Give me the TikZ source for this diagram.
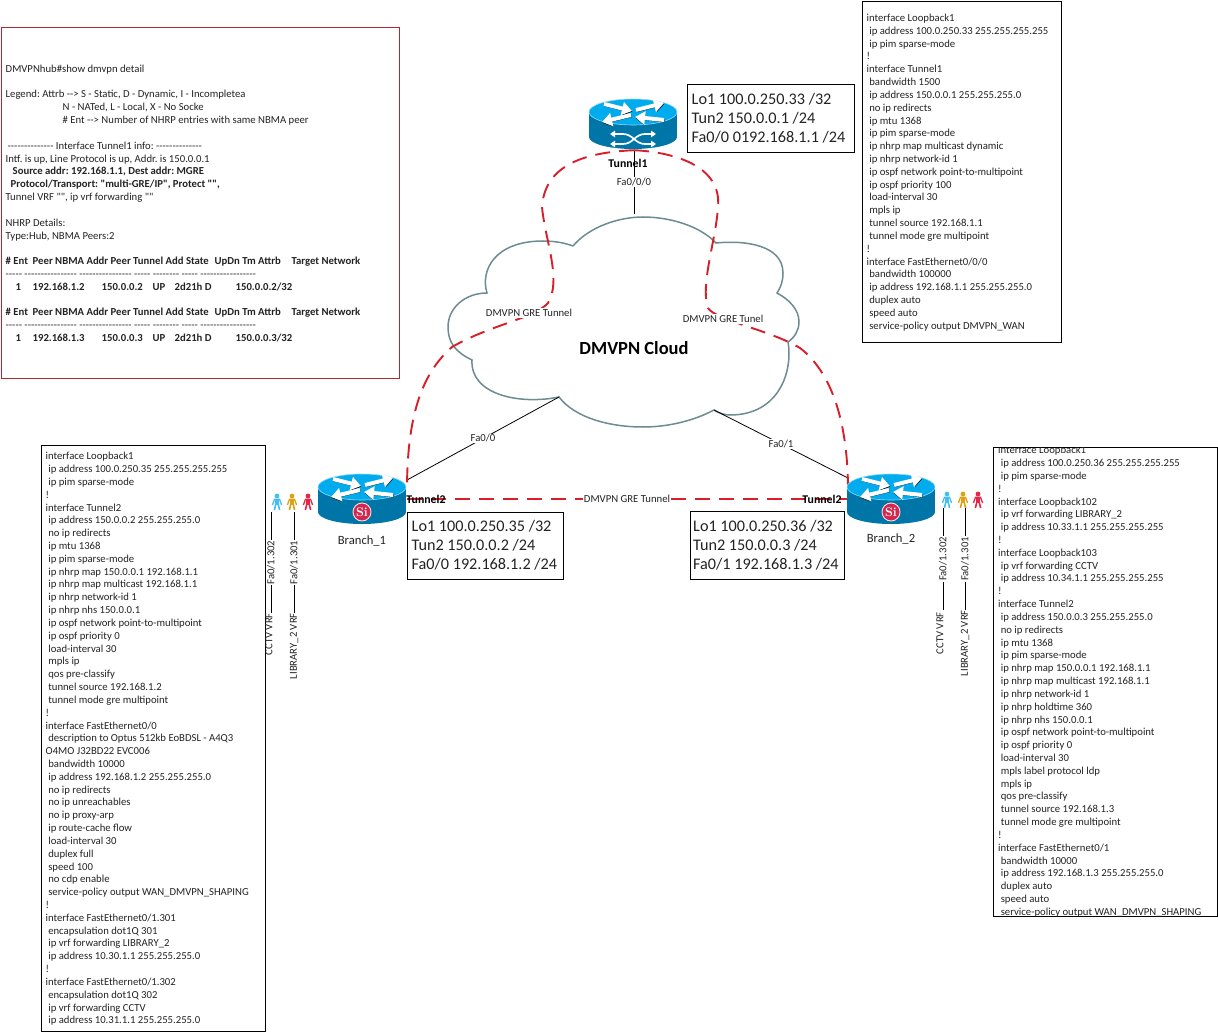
\documentclass[tikz,border=0pt]{standalone}
\usepackage{fontspec}
\newfontfamily\diagfont{Carlito}
\usetikzlibrary{arrows.meta}
\newcommand{\ind}{\hspace*{2.6pt}}
\newcommand{\topstrut}{\rule{0pt}{9pt}}
\newcommand{\cellat}[2]{\makebox[0pt][l]{\hspace*{#1pt}#2}}
\newcommand{\dashrow}{----- ---------------- ---------------- ----- -------- ----- -----------------}
\definecolor{routertop}{RGB}{0,172,238}
\definecolor{routerside}{RGB}{0,118,168}
\definecolor{cloudedge}{RGB}{108,140,146}
\definecolor{tunnelred}{RGB}{216,30,40}
\definecolor{panelred}{RGB}{178,40,50}
\definecolor{inktext}{RGB}{35,35,35}
\definecolor{badgered}{RGB}{210,40,80}
\definecolor{hostcyan}{RGB}{70,190,240}
\definecolor{hostorange}{RGB}{222,160,20}
\definecolor{hostred}{RGB}{226,40,70}
\tikzset{
    every node/.style={font=\diagfont\frenchspacing\fontsize{10.7}{12.82}\selectfont, text=inktext},
    cfgbox/.style={draw=black, fill=white, anchor=north west, inner xsep=4.5pt, inner ysep=0pt, align=flush left},
    ipbox/.style={draw=black, fill=white, anchor=north west, inner xsep=4.5pt, inner ysep=0pt, align=flush left,
        font=\diagfont\frenchspacing\fontsize{16.2}{19}\selectfont},
    tunnelline/.style={draw=tunnelred, line width=1.9pt, dash pattern=on 15pt off 9pt},
    linkline/.style={draw=black, line width=0.8pt},
    linklabel/.style={fill=white, inner sep=1pt},
    tunnellabel/.style={inner sep=0pt, font=\diagfont\bfseries\fontsize{11.8}{12.85}\selectfont, text=black},
    vrflabel/.style={rotate=90, fill=white, inner sep=1pt},
    wingarrow/.style={draw=white, line width=4pt, -{Triangle[length=10pt,width=13pt]}},
    wingshadow/.style={draw=black, line width=3pt, -{Triangle[length=9pt,width=11.5pt]}},
    crossarrow/.style={draw=white, line width=1.7pt, {Triangle[length=5pt,width=6.5pt]}-{Triangle[length=5pt,width=6.5pt]}},
    pics/routerbody/.style={code={
        \fill[routerside] (0,25) ellipse (44 and 12);
        \fill[routerside] (-44,0) rectangle (44,25);
        \fill[routertop, draw=cyan!45, line width=0.6pt] (0,0) ellipse (44 and 13);
        \foreach \ax/\ay/\bx/\by in {-29/-8/-1/-1, 3/-2/31/-9, -2/3/-31/10, 31/8/2/5} {
            \draw[wingshadow] (\ax+0.3,\ay+0.7) -- (\bx+0.3,\by+0.7);
            \draw[wingarrow] (\ax,\ay) -- (\bx,\by);
        }
    }},
    pics/sibadge/.style={code={
        \fill[badgered, draw=white!85!red, line width=0.9pt] (0,0) circle (9);
        \node[inner sep=0pt, text=white, font=\bfseries\fontsize{12.5}{12}\selectfont] {Si};
    }},
    pics/person/.style={code={
        \fill[#1] (0,-6) circle (2.4);
        \draw[#1, line width=3.4pt] (0,-3.4) -- (0,3);
        \draw[#1, line width=1.3pt] (-4.6,3) -- (-2.5,-2.8) -- (2.5,-2.8) -- (4.6,3);
        \draw[#1, line width=1.6pt] (-2.6,8) -- (-1.2,2) -- (1.2,2) -- (2.6,8);
    }},
}
\begin{document}
\begin{tikzpicture}[x=1pt, y=-1pt]
\useasboundingbox (0,0) rectangle (1218,1032);

% config and status panels
\node[cfgbox, draw=panelred, minimum width=398pt, minimum height=351pt, text width=389pt] (hubStatus) at (1,27) {%
\topstrut DMVPNhub\#show dmvpn detail\\
~\\
Legend: Attrb --> S - Static, D - Dynamic, I - Incompletea\\
\hspace*{57pt}N - NATed, L - Local, X - No Socke\\
\hspace*{57pt}\# Ent --> Number of NHRP entries with same NBMA peer\\
~\\
\hspace*{2pt}-------------- Interface Tunnel1 info: --------------\\
Intf. is up, Line Protocol is up, Addr. is 150.0.0.1\\
\hspace*{7pt}\textbf{Source addr: 192.168.1.1, Dest addr: MGRE}\\
\hspace*{5pt}\textbf{Protocol/Transport: "multi-GRE/IP", Protect "",}\\
Tunnel VRF "", ip vrf forwarding ""\\
~\\
NHRP Details:\\
Type:Hub, NBMA Peers:2\\
~\\
\textbf{\cellat{0}{\# Ent}\cellat{27}{Peer NBMA Addr Peer Tunnel Add State}\cellat{209}{UpDn Tm Attrb}\cellat{286}{Target Network}}\\
\dashrow\\
\textbf{\cellat{10}{1}\cellat{27}{192.168.1.2}\cellat{96}{150.0.0.2}\cellat{147}{UP}\cellat{169}{2d21h D}\cellat{230}{150.0.0.2/32}}\\
~\\
\textbf{\cellat{0}{\# Ent}\cellat{27}{Peer NBMA Addr Peer Tunnel Add State}\cellat{209}{UpDn Tm Attrb}\cellat{286}{Target Network}}\\
\dashrow\\
\textbf{\cellat{10}{1}\cellat{27}{192.168.1.3}\cellat{96}{150.0.0.3}\cellat{147}{UP}\cellat{169}{2d21h D}\cellat{230}{150.0.0.3/32}}
};

\node[cfgbox, minimum width=199pt, minimum height=341pt, text width=190pt] (hubConfig) at (862,1) {%
\topstrut interface Loopback1\\
\ind ip address 100.0.250.33 255.255.255.255\\
\ind ip pim sparse-mode\\
!\\
interface Tunnel1\\
\ind bandwidth 1500\\
\ind ip address 150.0.0.1 255.255.255.0\\
\ind no ip redirects\\
\ind ip mtu 1368\\
\ind ip pim sparse-mode\\
\ind ip nhrp map multicast dynamic\\
\ind ip nhrp network-id 1\\
\ind ip ospf network point-to-multipoint\\
\ind ip ospf priority 100\\
\ind load-interval 30\\
\ind mpls ip\\
\ind tunnel source 192.168.1.1\\
\ind tunnel mode gre multipoint\\
!\\
interface FastEthernet0/0/0\\
\ind bandwidth 100000\\
\ind ip address 192.168.1.1 255.255.255.0\\
\ind duplex auto\\
\ind speed auto\\
\ind service-policy output DMVPN\_WAN
};

\node[cfgbox, minimum width=224pt, minimum height=586pt, text width=215pt] (branchOneConfig) at (41,445) {%
\topstrut interface Loopback1\\
\ind ip address 100.0.250.35 255.255.255.255\\
\ind ip pim sparse-mode\\
!\\
interface Tunnel2\\
\ind ip address 150.0.0.2 255.255.255.0\\
\ind no ip redirects\\
\ind ip mtu 1368\\
\ind ip pim sparse-mode\\
\ind ip nhrp map 150.0.0.1 192.168.1.1\\
\ind ip nhrp map multicast 192.168.1.1\\
\ind ip nhrp network-id 1\\
\ind ip nhrp nhs 150.0.0.1\\
\ind ip ospf network point-to-multipoint\\
\ind ip ospf priority 0\\
\ind load-interval 30\\
\ind mpls ip\\
\ind qos pre-classify\\
\ind tunnel source 192.168.1.2\\
\ind tunnel mode gre multipoint\\
!\\
interface FastEthernet0/0\\
\ind description to Optus 512kb EoBDSL - A4Q3\\
O4MO J32BD22 EVC006\\
\ind bandwidth 10000\\
\ind ip address 192.168.1.2 255.255.255.0\\
\ind no ip redirects\\
\ind no ip unreachables\\
\ind no ip proxy-arp\\
\ind ip route-cache flow\\
\ind load-interval 30\\
\ind duplex full\\
\ind speed 100\\
\ind no cdp enable\\
\ind service-policy output WAN\_DMVPN\_SHAPING\\
!\\
interface FastEthernet0/1.301\\
\ind encapsulation dot1Q 301\\
\ind ip vrf forwarding LIBRARY\_2\\
\ind ip address 10.30.1.1 255.255.255.0\\
!\\
interface FastEthernet0/1.302\\
\ind encapsulation dot1Q 302\\
\ind ip vrf forwarding CCTV\\
\ind ip address 10.31.1.1 255.255.255.0
};

\node[cfgbox, minimum width=224pt, minimum height=469pt] (branchTwoConfig) at (993,447) {};
\begin{scope}
\clip (branchTwoConfig.north west) rectangle (branchTwoConfig.south east);
\node[align=flush left, text width=215pt, inner sep=0pt] (branchTwoText) at ([xshift=0.5pt]branchTwoConfig.center) {%
interface Loopback1\\
\ind ip address 100.0.250.36 255.255.255.255\\
\ind ip pim sparse-mode\\
!\\
interface Loopback102\\
\ind ip vrf forwarding LIBRARY\_2\\
\ind ip address 10.33.1.1 255.255.255.255\\
!\\
interface Loopback103\\
\ind ip vrf forwarding CCTV\\
\ind ip address 10.34.1.1 255.255.255.255\\
!\\
interface Tunnel2\\
\ind ip address 150.0.0.3 255.255.255.0\\
\ind no ip redirects\\
\ind ip mtu 1368\\
\ind ip pim sparse-mode\\
\ind ip nhrp map 150.0.0.1 192.168.1.1\\
\ind ip nhrp map multicast 192.168.1.1\\
\ind ip nhrp network-id 1\\
\ind ip nhrp holdtime 360\\
\ind ip nhrp nhs 150.0.0.1\\
\ind ip ospf network point-to-multipoint\\
\ind ip ospf priority 0\\
\ind load-interval 30\\
\ind mpls label protocol ldp\\
\ind mpls ip\\
\ind qos pre-classify\\
\ind tunnel source 192.168.1.3\\
\ind tunnel mode gre multipoint\\
!\\
interface FastEthernet0/1\\
\ind bandwidth 10000\\
\ind ip address 192.168.1.3 255.255.255.0\\
\ind duplex auto\\
\ind speed auto\\
\ind service-policy output WAN\_DMVPN\_SHAPING
};
\end{scope}

% cloud outline
\draw[cloudedge, line width=1.5pt, fill=white]
    (573,246) .. controls (590,226) and (620,217) .. (643,217)
    .. controls (670,217) and (700,226) .. (716,243)
    .. controls (745,240) and (783,245) .. (783,273)
    .. controls (783,281) and (781,287) .. (777,293)
    .. controls (790,300) and (799,310) .. (799,322)
    .. controls (799,330) and (795,337) .. (788,342)
    .. controls (793,370) and (780,415) .. (730,415)
    .. controls (725,415) and (718,413) .. (714,410)
    .. controls (695,420) and (670,427) .. (643,427)
    .. controls (610,427) and (575,418) .. (559,397)
    .. controls (520,405) and (470,395) .. (472,360)
    .. controls (455,352) and (448,342) .. (448,327)
    .. controls (448,308) and (465,293) .. (487,293)
    .. controls (480,270) and (495,241) .. (543,241)
    .. controls (555,241) and (565,243) .. (573,246);

% routers
\coordinate (cloudTop) at (634,214);
\coordinate (cloudLeft) at (559,397);
\coordinate (cloudRight) at (714,410);
\node[minimum width=90pt, minimum height=50pt] (hub) at (634,125) {};
\node[minimum width=88pt, minimum height=50pt] (branchOne) at (362,499) {};
\node[minimum width=88pt, minimum height=50pt] (branchTwo) at (891,499) {};
\coordinate (leftRise) at (407,490);
\coordinate (rightRise) at (848,490);
\coordinate (oneTunnel) at (407,499);
\coordinate (twoTunnel) at (848,499);
\coordinate (oneFa) at (407,480);
\coordinate (twoFa) at (848,478);

% links
\draw[linkline] (hub.south) -- node[linklabel, pos=0.5] (hubFa) {Fa0/0/0} (cloudTop);
\draw[linkline] (cloudLeft) -- node[linklabel] (oneFaLabel) {Fa0/0} (oneFa);
\draw[linkline] (cloudRight) -- node[linklabel] (twoFaLabel) {Fa0/1} (twoFa);

% gre tunnels
\draw[tunnelline] (hub.south) .. controls (595,152) and (545,160) .. (542,207)
    .. controls (545,240) and (562,280) .. (548,303)
    .. controls (535,318) and (490,325) .. (452,347)
    .. controls (420,375) and (407,420) .. (leftRise);
\draw[tunnelline] (hub.south) .. controls (672,152) and (722,165) .. (718,207)
    .. controls (716,240) and (700,285) .. (708,308)
    .. controls (715,320) and (770,330) .. (800,348)
    .. controls (835,375) and (848,430) .. (rightRise);
\draw[tunnelline] (oneTunnel) -- (twoTunnel);
\node[linklabel] (greLeft) at (529,313) {DMVPN GRE Tunnel};
\node[linklabel] (greRight) at (723,319) {DMVPN GRE Tunel};
\node[linklabel] (greMid) at (627,499) {DMVPN GRE Tunnel};
\node[font=\diagfont\bfseries\fontsize{18.5}{20}\selectfont, text=black] (cloudName) at (634,348) {DMVPN Cloud};

\pic at (633,112) {routerbody};
\draw[crossarrow] (610,134) -- (623,134) .. controls (633,134) and (635,144) .. (645,144) -- (656,144);
\draw[crossarrow] (610,144) -- (623,144) .. controls (633,144) and (635,134) .. (645,134) -- (656,134);

\pic at (362,487) {routerbody};
\pic at (362,512) {sibadge};
\pic at (891,487) {routerbody};
\pic at (891,512) {sibadge};

\node[tunnellabel] (hubTunnel) at (628,163) {Tunnel1};
\node[tunnellabel] (oneTunnelLabel) at (426,499) {Tunnel2};
\node[tunnellabel] (twoTunnelLabel) at (822,499) {Tunnel2};
\node[font=\diagfont\fontsize{12.6}{14}\selectfont] (oneName) at (362,541) {Branch\_1};
\node[font=\diagfont\fontsize{12.6}{14}\selectfont] (twoName) at (891,539) {Branch\_2};

% address boxes
\node[ipbox, minimum width=167pt, minimum height=68pt, text width=158pt] (hubAddr) at (687,84) {%
Lo1 100.0.250.33 /32\\Tun2 150.0.0.1 /24\\Fa0/0 0192.168.1.1 /24};
\node[ipbox, minimum width=156pt, minimum height=67pt, text width=147pt] (oneAddr) at (407,512) {%
Lo1 100.0.250.35 /32\\Tun2 150.0.0.2 /24\\Fa0/0 192.168.1.2 /24};
\node[ipbox, inner xsep=3pt, minimum width=154pt, minimum height=68pt, text width=148pt] (twoAddr) at (690,511) {%
Lo1 100.0.250.36 /32\\Tun2 150.0.0.3 /24\\Fa0/1 192.168.1.3 /24};

% vrf hosts
\pic at (277,502) {person={hostcyan}};
\pic at (292,502) {person={hostorange}};
\pic at (308,502) {person={hostred}};
\pic at (947,500) {person={hostcyan}};
\pic at (963,500) {person={hostorange}};
\pic at (978,500) {person={hostred}};

\coordinate (oneCctv) at (271,512);
\coordinate (oneCctvEnd) at (271,613);
\coordinate (oneLib) at (294,512);
\coordinate (oneLibEnd) at (294,613);
\coordinate (twoCctv) at (943,508);
\coordinate (twoCctvEnd) at (943,610);
\coordinate (twoLib) at (965,508);
\coordinate (twoLibEnd) at (965,610);
\draw[linkline] (oneCctv) -- node[vrflabel] (oneCctvFa) {Fa0/1.302} (oneCctvEnd);
\draw[linkline] (oneLib) -- node[vrflabel] (oneLibFa) {Fa0/1.301} (oneLibEnd);
\draw[linkline] (twoCctv) -- node[vrflabel] (twoCctvFa) {Fa0/1.302} (twoCctvEnd);
\draw[linkline] (twoLib) -- node[vrflabel] (twoLibFa) {Fa0/1.301} (twoLibEnd);
\node[rotate=90, anchor=east, inner sep=0pt] (oneCctvName) at (269,613) {CCTV VRF};
\node[rotate=90, anchor=east, inner sep=0pt] (oneLibName) at (294,613) {LIBRARY\_2 VRF};
\node[rotate=90, anchor=east, inner sep=0pt] (twoCctvName) at (940,612) {CCTV VRF};
\node[rotate=90, anchor=east, inner sep=0pt] (twoLibName) at (965,610) {LIBRARY\_2 VRF};
\end{tikzpicture}
\end{document}
